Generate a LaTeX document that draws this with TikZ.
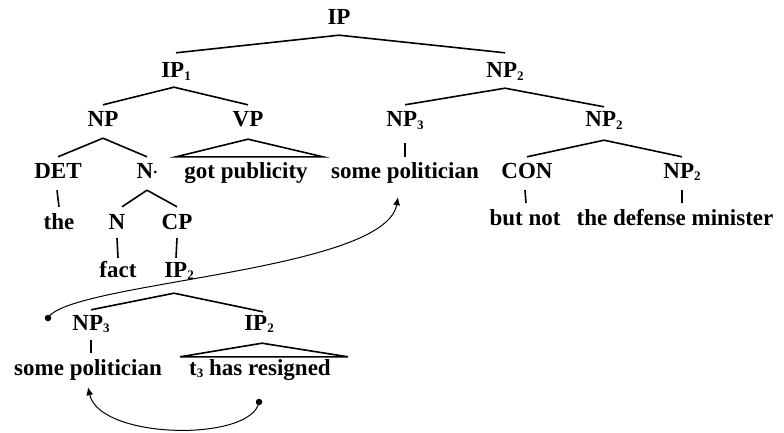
\documentclass[tikz,border=0pt]{standalone}
\usepackage{fontspec}
\setmainfont{Liberation Serif}
\usetikzlibrary{arrows.meta,calc}

% small lowered index digit
\newcommand\idx[1]{\raisebox{-2.5pt}{\fontsize{13}{13}\selectfont #1}}

\tikzset{
  lbl/.style={inner sep=0pt, anchor=base, text height=15pt, text depth=4pt,
              font=\bfseries\fontsize{23}{27}\selectfont},
  branch/.style={line width=1.6pt},
  move/.style={line width=1pt, -{Latex[length=8pt,width=7pt]}},
  tracedot/.style={circle, fill=black, inner sep=0pt, minimum size=6.5pt}
}

\begin{document}
\begin{tikzpicture}[x=1pt, y=-1pt]
\useasboundingbox (0,0) rectangle (784,433);

% ---- labels, placed at their baselines ----
\node[lbl] (IP)   at (339,25)  {IP};
\node[lbl] (IPa)  at (176,78)  {IP\idx{1}};
\node[lbl] (NPa)  at (505,78)  {NP\idx{2}};
\node[lbl] (NP)   at (103,127) {NP};
\node[lbl] (VP)   at (248,127) {VP};
\node[lbl] (NPb)  at (405,127) {NP\idx{3}};
\node[lbl] (NPc)  at (604,127) {NP\idx{2}};
\node[lbl] (DET)  at (58,178)  {DET};
\node[lbl] (Nbar) at (147,178) {N\raisebox{4pt}{\scalebox{0.7}{.}}};
\node[lbl] (gp)   at (246,178) {got publicity};
\node[lbl] (spa)  at (405,178) {some politician};
\node[lbl] (CON)  at (527,178) {CON};
\node[lbl] (NPd)  at (682,178) {NP\idx{2}};
\node[lbl] (the)  at (59,229)  {the};
\node[lbl] (N)    at (117,229) {N};
\node[lbl] (CP)   at (177,229) {CP};
\node[lbl] (bn)   at (525,225) {but not};
\node[lbl] (dm)   at (675,225) {the defense minister};
\node[lbl] (fact) at (118,277) {fact};
\node[lbl] (IPb)  at (179,277) {IP\idx{2}};
\node[lbl] (NPe)  at (91,330)  {NP\idx{3}};
\node[lbl] (IPc)  at (259,330) {IP\idx{2}};
\node[lbl] (spb)  at (88,375)  {some politician};
\node[lbl] (tr)   at (260,375) {t\idx{3} has resigned};

\node[tracedot] (dota) at (48,318) {};
\node[tracedot] (dotb) at (259,402) {};

% ---- branches ----
\draw[branch] ([yshift=-6pt]IP.south) -- ([yshift=10pt]IPa.north);
\draw[branch] ([yshift=-6pt]IP.south) -- ([yshift=10pt]NPa.north);

\draw[branch] ([xshift=-2pt,yshift=-5pt]IPa.south) -- ([yshift=7pt]NP.north);
\draw[branch] ([xshift=-2pt,yshift=-5pt]IPa.south) -- ([yshift=7pt]VP.north);

\draw[branch] ([yshift=-6pt]NPa.south) -- ([yshift=7pt]NPb.north);
\draw[branch] ([yshift=-6pt]NPa.south) -- ([yshift=5pt]NPc.north);

\draw[branch] ([yshift=-7pt]NP.south) -- ([yshift=6pt]DET.north);
\draw[branch] ([yshift=-7pt]NP.south) -- ([yshift=6pt]Nbar.north);

% VP spans its words as a triangle
\draw[branch, line join=miter] ([yshift=-8pt]VP.south)
  -- ([xshift=-8pt,yshift=6pt]gp.north west)
  -- ([xshift=15pt,yshift=6pt]gp.north east) -- cycle;

\draw[branch] ([yshift=-12pt]NPb.south) -- ([yshift=6pt]spa.north);

\draw[branch] ([yshift=-9pt]NPc.south) -- ([yshift=6pt]CON.north);
\draw[branch] ([yshift=-9pt]NPc.south) -- ([yshift=6pt]NPd.north);

\draw[branch] ([xshift=-1pt,yshift=-8pt]DET.south) -- ([yshift=7pt]the.north);
\draw[branch] ([yshift=-8pt]Nbar.south) -- ([xshift=5pt,yshift=7pt]N.north);
\draw[branch] ([yshift=-8pt]Nbar.south) -- ([yshift=7pt]CP.north);

\draw[branch] ([xshift=-2pt,yshift=-8pt]CON.south) -- ([xshift=1pt,yshift=7pt]bn.north);
\draw[branch] ([yshift=-8pt]NPd.south) -- ([yshift=7pt]NPd.south |- dm.north);

\draw[branch] ([yshift=-5pt]N.south) -- ([yshift=4pt]fact.north);
\draw[branch] ([yshift=-5pt]CP.south) -- ([xshift=-3pt,yshift=4pt]IPb.north);

\draw[branch] ([xshift=-5pt,yshift=-12pt]IPb.south) -- ([yshift=5pt]NPe.north);
\draw[branch] ([xshift=-5pt,yshift=-12pt]IPb.south) -- ([xshift=4pt,yshift=3pt]IPc.north);

\draw[branch] ([yshift=-6pt]NPe.south) -- ([xshift=3pt,yshift=7pt]spb.north);

% IP2 spans its words as a triangle
\draw[branch, line join=miter] ([xshift=3pt,yshift=-9pt]IPc.south)
  -- ([xshift=-9pt,yshift=3pt]tr.north west)
  -- ([xshift=17pt,yshift=3pt]tr.north east) -- cycle;

% ---- movement arrows ----
\draw[move] (dota.center) .. controls (68,282) and (385,272)
  .. ([xshift=-7pt,yshift=-15pt]spa.south);
\draw[move] (dotb.center) .. controls (252,442) and (100,440)
  .. ([xshift=0pt,yshift=-8pt]spb.south);
\end{tikzpicture}
\end{document}
